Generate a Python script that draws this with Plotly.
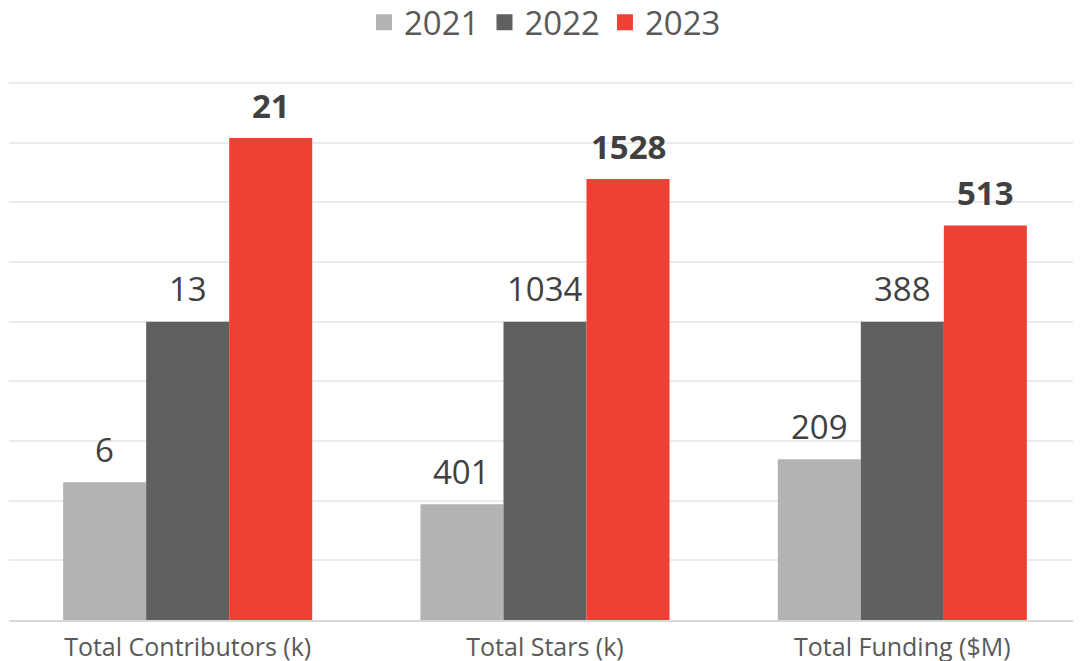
import plotly.graph_objects as go

categories = ["Total Contributors (k)", "Total Stars (k)", "Total Funding ($M)"]
years = ["2021", "2022", "2023"]
values_2021 = [6, 401, 209]
values_2022 = [13, 1034, 388]
values_2023 = [21, 1528, 513]
colors = ["#B2B3B2", "#606060", "#EE4035"]

series = [values_2021, values_2022, values_2023]
# each group is scaled relative to its 2022 value (as in the reference)
base = values_2022

FONT = "Open Sans"
fig = go.Figure()
for k, (yr, vals, col) in enumerate(zip(years, series, colors)):
    rel = [v / b for v, b in zip(vals, base)]
    fig.add_trace(go.Bar(x=categories, y=rel, name=yr, marker_color=col,
                         marker_line_width=0, showlegend=False,
                         hoverinfo="skip"))
    fig.add_trace(go.Scatter(x=[None], y=[None], mode="markers", name=yr,
                             marker=dict(symbol="square", size=20, color=col)))

bar_w = (1 - 0.303) / 3
offsets = [-bar_w, 0, bar_w]
for k, vals in enumerate(series):
    for i, v in enumerate(vals):
        fig.add_annotation(x=i + offsets[k], y=v / base[i], xref="x", yref="y",
                           text=f"<b>{v}</b>" if k == 2 else str(v),
                           showarrow=False, yanchor="middle", yshift=33,
                           font=dict(family=FONT, size=33, color="#404040"))

# the page body adds an 8px offset; size the figure to fill the 1081x661 window
fig.update_layout(
    width=1073, height=653,
    margin=dict(l=1, r=0, t=72, b=41, autoexpand=False),
    paper_bgcolor="white", plot_bgcolor="white",
    barmode="group", bargap=0.303, bargroupgap=0,
    font=dict(family=FONT, color="#595959"),
    legend=dict(orientation="h", x=0.5, xanchor="center",
                yref="container", y=0.978, yanchor="middle",
                font=dict(family=FONT, size=33, color="#595959"),
                itemwidth=30, tracegroupgap=0),
    xaxis=dict(showline=True, linecolor="#D9D9D9", linewidth=1.5,
               tickfont=dict(family=FONT, size=25, color="#595959"),
               ticks="", showgrid=False, automargin=False,
               ticklabelstandoff=4),
    yaxis=dict(range=[0, 1.81], dtick=0.2, showticklabels=False,
               showgrid=True, gridcolor="#EBEBEB", gridwidth=1.5,
               zeroline=False, automargin=False),
)

fig.write_html("out.html")
